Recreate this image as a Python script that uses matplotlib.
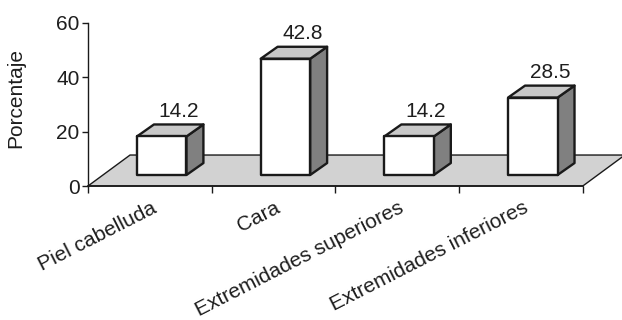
import matplotlib.pyplot as plt
from matplotlib.patches import Polygon

plt.rcParams['font.family'] = ['Liberation Sans', 'DejaVu Sans']

categorias = ['Piel cabelluda', 'Cara', 'Extremidades superiores', 'Extremidades inferiores']
valores = [14.2, 42.8, 14.2, 28.5]
etiquetas = ['14.2', '42.8', '14.2', '28.5']
yticks = [0, 20, 40, 60]

# pseudo-3D geometry (data units)
floor_dx, floor_dy = 0.34, 11.4
bar_x0, bar_w = 0.396, 0.40
bar_y0 = 4.05
bar_dx, bar_dy = 0.137, 4.4

fig = plt.figure(figsize=(6.22, 3.2), dpi=100)
ax = fig.add_axes([88 / 622, 134 / 320, 534 / 622, 163 / 320])
ax.set_xlim(0, 534 / 123.7)
ax.set_ylim(0, 60)

n = len(categorias)
edge = '#1a1a1a'
txt = '#1e1e1e'
fs = 15

# floor
floor = Polygon([(0, 0), (n, 0), (n + floor_dx, floor_dy), (floor_dx, floor_dy)],
                closed=True, facecolor='#d2d2d2', edgecolor=edge, lw=1.0,
                clip_on=False, zorder=1)
ax.add_patch(floor)

for i, v in enumerate(valores):
    x0 = i + bar_x0
    x1 = x0 + bar_w
    y0 = bar_y0
    y1 = bar_y0 + v
    side = Polygon([(x1, y0), (x1 + bar_dx, y0 + bar_dy), (x1 + bar_dx, y1 + bar_dy), (x1, y1)],
                   closed=True, facecolor='#808080', edgecolor=edge, lw=1.7,
                   joinstyle='round', clip_on=False, zorder=3)
    top = Polygon([(x0, y1), (x1, y1), (x1 + bar_dx, y1 + bar_dy), (x0 + bar_dx, y1 + bar_dy)],
                  closed=True, facecolor='#c8c8c8', edgecolor=edge, lw=1.7,
                  joinstyle='round', clip_on=False, zorder=3)
    front = Polygon([(x0, y0), (x1, y0), (x1, y1), (x0, y1)],
                    closed=True, facecolor='white', edgecolor=edge, lw=1.7,
                    joinstyle='round', clip_on=False, zorder=4)
    for p in (side, top, front):
        ax.add_patch(p)
    ax.text((x0 + x1) / 2 + bar_dx, y1 + bar_dy + 2.8, etiquetas[i],
            ha='center', va='baseline', fontsize=fs, color=txt, zorder=5)

# axes styling
for s in ('top', 'right'):
    ax.spines[s].set_visible(False)
ax.spines['left'].set_bounds(0, 60)
ax.spines['bottom'].set_bounds(0, n)
ax.spines['left'].set_color(edge)
ax.spines['bottom'].set_color(edge)
ax.spines['left'].set_linewidth(1.0)
ax.spines['bottom'].set_linewidth(1.2)
ax.spines['bottom'].set_zorder(2)

ax.set_yticks(yticks)
ax.set_yticklabels([str(t) for t in yticks])
ax.tick_params(axis='y', direction='out', length=4, width=1.0, pad=2,
               labelsize=fs, colors=edge, labelcolor=txt)
ax.set_xticks(range(n + 1))
ax.set_xticklabels([])
ax.tick_params(axis='x', direction='out', length=5, width=1.0, colors=edge)

for i, c in enumerate(categorias):
    ax.text(i + 0.5 + 0.065, -9.5, c, rotation=27, rotation_mode='anchor',
            ha='right', va='baseline', fontsize=fs, color=txt, clip_on=False)

ax.set_ylabel('Porcentaje', fontsize=fs, color=txt)
ax.yaxis.set_label_coords(-0.118, 0.54)

fig.savefig('out.png', dpi=100)
